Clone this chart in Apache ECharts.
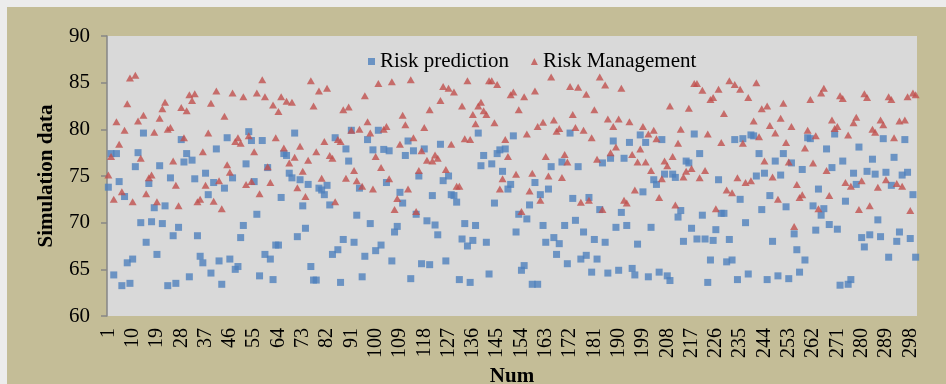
<!DOCTYPE html>
<html>
<head>
<meta charset="utf-8">
<script src="https://cdn.jsdelivr.net/npm/echarts@6/dist/echarts.min.js"></script>
<style>
  html, body { margin: 0; padding: 0; background: #ececec; }
  #frame { position: relative; width: 946px; height: 384px; overflow: hidden; }
  #chart { position: absolute; left: 7px; top: 7px; width: 939px; height: 377px; }
</style>
</head>
<body>
<div id="frame"><div id="chart"></div></div>
<script>
// Sample numbers 1..300 along the horizontal axis
const categories = Array.from({ length: 300 }, (_, i) => String(i + 1));

const yTicks = { min: 60, max: 90, step: 5 };

const riskPrediction = [
  73.8, 77.4, 64.4, 77.4, 74.4, 63.25, 72.8, 65.7, 63.5, 66.1,
  76.0, 77.5, 70.0, 79.6, 67.9, 74.2, 70.1, 71.6, 66.6, 76.1,
  69.9, 71.8, 63.25, 74.8, 68.6, 63.5, 69.5, 78.9, 76.5, 77.4,
  64.2, 76.7, 74.7, 68.6, 66.4, 65.7, 75.3, 73.0, 64.6, 74.3,
  77.9, 65.9, 63.4, 73.7, 79.1, 66.1, 74.8, 65.0, 65.3, 68.4,
  69.7, 76.3, 79.75, 78.8, 74.4, 70.9, 64.3, 78.8, 66.6, 75.9,
  66.1, 63.9, 67.6, 67.6, 72.7, 77.4, 77.2, 75.3, 74.8, 79.6,
  68.5, 74.6, 71.8, 69.4, 74.1, 65.3, 63.85, 63.85, 73.7,
  73.5, 73.0, 74.0, 71.9, 66.6, 79.1, 67.1, 63.6, 68.2, 77.9,
  76.6, 79.9, 67.9, 70.8, 73.7, 64.2, 66.4, 78.9, 69.9, 77.8,
  67.0, 79.9, 67.6, 77.85,
  74.3, 77.7, 65.9, 69.0, 69.6, 73.25, 72.1, 77.2, 78.75, 64.0,
  77.7, 70.9, 75.0, 65.6, 77.9, 70.2, 65.5, 72.9, 69.75, 68.7,
  78.4, 74.5, 65.9, 75.0, 73.0,
  72.9, 72.2, 63.9, 68.25, 69.9, 67.5, 63.6, 68.1, 69.7, 79.6,
  76.1, 77.2, 67.9, 64.5, 76.3, 72.1, 77.4, 77.8, 75.5, 77.9,
  73.6, 74.1, 79.3, 69.0, 70.9,
  64.9, 65.4, 70.4, 71.9, 63.4, 74.3, 63.4, 73.0, 69.7, 67.9,
  73.6, 76.0, 68.4, 66.6, 67.75, 76.5, 69.7, 65.6, 79.6, 72.6,
  70.25, 76.0, 66.1, 69.0, 66.5,
  72.7, 64.7, 68.2, 66.1, 71.4, 76.4, 67.9, 64.6, 76.9, 78.75,
  69.5, 64.9, 71.1, 76.9, 69.7, 78.6, 65.1, 64.4, 67.7, 79.4,
  73.3, 78.6, 64.2, 69.5, 74.6,
  74.1, 64.7, 78.9, 75.2, 64.3, 63.8, 75.2, 74.85, 70.6, 71.3,
  68.0, 76.6, 76.4, 69.4, 79.5, 68.25, 77.4, 70.8, 68.25, 63.6,
  66.0, 68.1, 69.25, 74.6, 71.0,
  71.0, 65.8, 68.2, 66.0, 78.9, 63.9, 72.5, 79.0, 70.0, 64.5,
  79.4, 79.3, 75.0, 77.4, 71.4, 75.3, 63.9, 72.9, 68.0, 76.6,
  64.3, 75.1, 77.4, 71.7, 64.0, 76.4, 68.8, 67.1, 64.7, 75.7,
  66.0, 79.1, 79.0, 71.8, 69.2, 73.6, 70.8, 71.5, 77.9, 69.8,
  75.9, 79.5, 69.3, 63.3, 76.6, 72.3, 63.4, 63.9, 75.3, 74.1,
  78.1, 68.4, 67.4, 75.5, 68.7, 76.8, 75.2, 70.3, 68.5, 79.0,
  75.4, 66.3, 74.0, 77.0, 68.0, 69.0, 75.1, 78.9, 75.4, 68.3,
  73.0, 66.3
];

const riskManagement = [
  75.1, 77.1, 72.5, 80.8, 78.4, 73.3, 79.9, 82.75, 85.5, 72.25,
  85.8, 80.9, 76.9, 81.5, 73.1, 74.8, 75.1, 79.7, 72.25, 81.2,
  82.2, 82.9, 80.0, 80.2, 76.6, 74.0, 71.8, 82.35, 79.1, 82.0,
  83.7, 83.1, 83.8, 72.25, 72.5, 77.6, 74.0, 79.6, 82.8, 72.3,
  84.1, 74.5, 71.5, 81.4, 76.2, 75.4, 83.9, 78.7, 79.1, 78.5,
  83.5, 74.1, 79.3, 74.4, 77.6, 83.9, 73.1, 85.3, 83.5, 76.0,
  74.3, 82.6, 79.1, 81.9, 83.5, 78.0, 83.0, 76.4, 82.9, 77.0,
  73.75, 78.2, 75.5, 72.8, 76.7, 85.2, 82.5, 77.6, 84.1,
  74.75, 78.7, 84.4, 77.2, 76.9, 72.25, 78.9, 78.7, 82.1, 74.75,
  82.4, 79.9, 75.6, 74.5, 80.0, 73.9, 83.6, 80.8, 79.6, 73.6,
  77.1, 84.9, 75.9, 80.0,
  80.3, 74.7, 85.1, 71.4, 72.6, 78.4, 81.5, 80.5, 73.6, 85.3,
  79.1, 71.2, 75.6, 77.7, 80.2, 76.7, 82.1, 76.6, 77.25, 76.9,
  83.1, 84.6, 75.7, 84.4, 78.4,
  84.0, 73.9, 73.9, 82.5, 79.0, 85.2, 78.9, 81.6, 80.6, 82.5,
  82.9, 82.0, 81.6, 85.2, 85.2, 80.7, 84.8, 73.6, 74.7, 78.9,
  77.1, 83.7, 84.0, 75.2, 82.1,
  71.2, 83.5, 79.5, 73.4, 75.3, 84.1, 80.3, 72.4, 80.75, 77.1,
  75.0, 85.6, 81.0, 79.8, 80.1, 74.85, 77.3, 76.5, 84.6, 81.6,
  80.2, 84.5, 72.2, 79.9, 83.75,
  72.4, 79.1, 82.1, 76.8, 85.6, 71.4, 84.75, 81.1, 77.5, 80.3,
  78.1, 81.1, 84.4, 72.4, 72.1, 80.8, 77.3, 73.5, 76.5, 77.9,
  80.3, 76.5, 79.5, 75.6, 79.9,
  79.0, 72.7, 74.7, 76.6, 76.1, 82.5, 77.1, 71.9, 78.5, 80.0,
  74.9, 75.5, 82.25, 75.8, 84.9, 84.9, 74.8, 84.2, 75.6, 79.5,
  83.2, 83.4, 71.5, 84.3, 78.6,
  81.7,
  73.5, 85.2, 73.2, 84.8, 74.8, 84.3, 78.5, 74.3, 83.4, 74.5,
  80.9, 85.0, 79.2, 82.2, 76.6, 82.5, 80.4, 74.9, 79.6, 72.5,
  81.2, 82.8, 78.6, 76.5, 80.3, 69.6, 74.1, 72.7, 73.0, 78.0,
  79.9, 83.2, 76.4, 79.3, 71.5, 83.9, 84.4, 75.6, 72.9, 81.0,
  80.1, 80.3, 83.6, 83.3, 74.3, 79.4, 73.9, 80.7, 81.3, 71.4,
  74.5, 83.8, 83.4, 71.8, 80.0, 79.7, 73.8, 81.0, 80.5, 74.6,
  83.5, 83.2, 79.1, 74.2, 80.9, 73.9, 81.0, 83.5, 71.3, 83.9,
  83.7
];

const FONT = '"Liberation Serif", "Times New Roman", serif';
const chart = echarts.init(document.getElementById('chart'), null, { renderer: 'canvas' });

chart.setOption({
  backgroundColor: '#c4bd97',
  animation: false,
  textStyle: { fontFamily: FONT },
  grid: {
    left: 100, top: 29, right: 29, bottom: 68,
    outerBoundsMode: 'none',
    containLabel: false,
    show: true, backgroundColor: '#d9d9d9', borderWidth: 0
  },
  legend: {
    left: 356, top: 39,
    itemWidth: 7, itemHeight: 7, itemGap: 22,
    textStyle: { fontFamily: FONT, fontSize: 21, color: '#000' },
    data: [
      { name: 'Risk prediction', icon: 'rect' },
      { name: 'Risk Management', icon: 'triangle' }
    ]
  },
  xAxis: {
    type: 'category',
    data: categories,
    boundaryGap: true,
    name: 'Num',
    nameLocation: 'middle',
    nameGap: 47,
    nameTextStyle: { fontFamily: FONT, fontSize: 21, fontWeight: 'bold', color: '#000' },
    axisLine: { show: false },
    axisTick: { show: false },
    axisLabel: {
      interval: 8, rotate: 90, margin: 12,
      fontFamily: FONT, fontSize: 20, color: '#000'
    },
    splitLine: { show: false }
  },
  yAxis: {
    type: 'value',
    min: yTicks.min, max: yTicks.max, interval: yTicks.step,
    name: 'Simulation data',
    nameLocation: 'middle',
    nameGap: 50,
    nameTextStyle: { fontFamily: FONT, fontSize: 21, fontWeight: 'bold', color: '#000' },
    axisLine: { show: true, lineStyle: { color: '#868686', width: 1.5 } },
    axisTick: { show: true, inside: false, length: 6, lineStyle: { color: '#868686', width: 1.5 } },
    axisLabel: { margin: 17, fontFamily: FONT, fontSize: 21, color: '#000' },
    splitLine: { show: false }
  },
  series: [
    {
      name: 'Risk prediction',
      type: 'scatter',
      data: riskPrediction,
      symbol: 'rect',
      symbolSize: 7,
      itemStyle: { color: '#4f81bd' }
    },
    {
      name: 'Risk Management',
      type: 'scatter',
      data: riskManagement,
      symbol: 'triangle',
      symbolSize: [8, 7],
      itemStyle: { color: '#c0504d' }
    }
  ]
});
</script>
</body>
</html>
